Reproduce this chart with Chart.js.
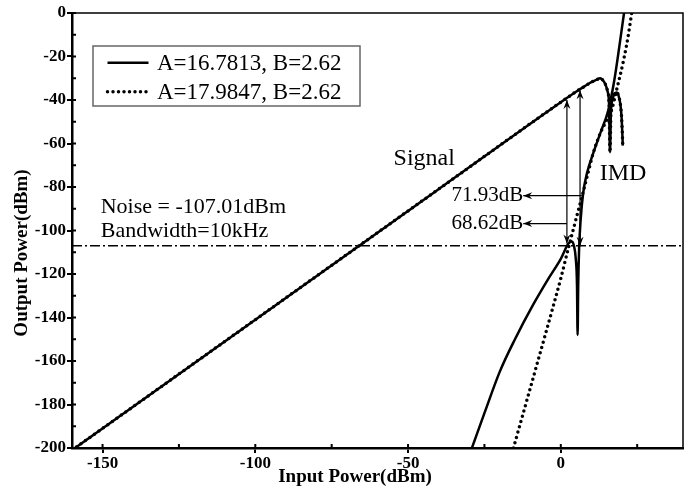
<!DOCTYPE html>
<html>
<head>
<meta charset="utf-8">
<script src="https://cdn.jsdelivr.net/npm/chart.js@4"></script>
<style>
  html, body { margin: 0; padding: 0; background: #fff; }
  #wrap { width: 691px; height: 490px; }
</style>
</head>
<body>
<div id="wrap"><canvas id="powerChart" width="691" height="490"></canvas></div>
<script>
// signal curve (both A values overlap here)
const signalX = [-160, -120, -80, -40, 0, 5, 8, 10, 12, 12.8, 13.5, 14.5, 15.3, 15.8, 16.1, 16.4, 17, 17.6, 18.3, 18.9, 19.5, 19.9, 20.3];
const signalY = [-201, -161, -121, -81, -41, -36.2, -33.5, -31.8, -30.5, -30, -30.5, -32.5, -36, -42, -64, -46, -39.5, -37, -36.5, -38, -42, -48, -61];

// IMD curve, A=16.7813
const imdSolidX = [-29.1, -25, -20, -15, -9, -4, 0, 2.5, 3.5, 4.3, 4.9, 5.3, 5.5, 5.7, 6.0, 6.5, 7.3, 8.5, 10.6, 13, 15.5, 17.5, 19.2, 20.7];
const imdSolidY = [-200, -184, -165, -150, -134, -122, -113, -106, -105, -107, -113, -125, -148, -125, -108, -95, -83, -74, -64.5, -55, -45, -31, -15, 0];

// IMD curve, A=17.9847
const imdDotX = [-15.5, -10, -5, 0, 2.5, 4, 5.5, 7.2, 9, 10.6, 13, 14.8, 16.6, 18.5, 20.5, 22, 23.2];
const imdDotY = [-200, -172.5, -147.5, -122, -108, -100, -92, -83, -73, -64.5, -55, -50, -44.7, -34, -22, -11, 0];

const noiseLevel = -107.01;
const xRange = [-160, 40];
const yRange = [-200, 0];
const xTickValues = [-150, -125, -100, -75, -50, -25, 0, 25];

const xTitle = 'Input Power(dBm)';
const yTitle = 'Output Power(dBm)';
const legendLabels = ['A=16.7813, B=2.62', 'A=17.9847, B=2.62'];

// annotations: [text, x, y]
const notes = [
    ['Signal', -44.7, -66.8],
    ['IMD', 20.4, -73.7]
];
const noiseNotes = [
    ['Noise = -107.01dBm', -150.6, -89.3],
    ['Bandwidth=10kHz', -150.6, -100.3]
];
// double arrows: [x, yBottom, yTop]
const vArrows = [
    [2.0, -106, -40],
    [6.3, -107, -35.5]
];
// horizontal arrows: [label, xFrom, xTo, y]
const hArrows = [
    ['71.93dB', 6.9, -12.3, -84],
    ['68.62dB', 2.0, -12.3, -96.8]
];

const toPoints = (xs, ys) => xs.map((x, i) => ({ x: x, y: ys[i] }));

const serif = "'Liberation Serif', 'Times New Roman', serif";

function arrowHead(ctx, x, y, angle) {
    ctx.save();
    ctx.translate(x, y);
    ctx.rotate(angle);
    ctx.beginPath();
    ctx.moveTo(0, 0);
    ctx.lineTo(-9, -3.5);
    ctx.lineTo(-6, 0);
    ctx.lineTo(-9, 3.5);
    ctx.closePath();
    ctx.fill();
    ctx.restore();
}

const extrasPlugin = {
    id: 'extras',
    afterDatasetsDraw(chart) {
        const ctx = chart.ctx;
        const xs = chart.scales.x;
        const ys = chart.scales.y;
        const area = chart.chartArea;
        ctx.save();

        // frame on top and right
        ctx.strokeStyle = '#000';
        ctx.lineWidth = 1.5;
        ctx.beginPath();
        ctx.moveTo(area.left, area.top);
        ctx.lineTo(area.right, area.top);
        ctx.lineTo(area.right, area.bottom);
        ctx.stroke();

        // inner tick marks
        ctx.lineWidth = 2;
        ctx.beginPath();
        xs.ticks.forEach(t => {
            const px = xs.getPixelForValue(t.value);
            ctx.moveTo(px, area.bottom);
            ctx.lineTo(px, area.bottom - 4);
        });
        ys.ticks.forEach(t => {
            const py = ys.getPixelForValue(t.value);
            ctx.moveTo(area.left, py);
            ctx.lineTo(area.left + 4, py);
        });
        ctx.stroke();

        // axis titles
        ctx.fillStyle = '#000';
        ctx.font = 'bold 19px ' + serif;
        ctx.textAlign = 'center';
        ctx.textBaseline = 'middle';
        ctx.fillText(xTitle, area.left + 283, area.bottom + 29);
        ctx.save();
        ctx.translate(22, area.top + 240);
        ctx.rotate(-Math.PI / 2);
        ctx.fillText(yTitle, 0, 0);
        ctx.restore();

        // arrows
        ctx.lineWidth = 1.2;
        vArrows.forEach(a => {
            const px = xs.getPixelForValue(a[0]);
            const y1 = ys.getPixelForValue(a[1]);
            const y2 = ys.getPixelForValue(a[2]);
            ctx.beginPath();
            ctx.moveTo(px, y1);
            ctx.lineTo(px, y2);
            ctx.stroke();
            arrowHead(ctx, px, y2, -Math.PI / 2);
            arrowHead(ctx, px, y1, Math.PI / 2);
        });
        ctx.font = '21px ' + serif;
        hArrows.forEach(a => {
            const x1 = xs.getPixelForValue(a[1]);
            const x2 = xs.getPixelForValue(a[2]);
            const py = ys.getPixelForValue(a[3]);
            ctx.beginPath();
            ctx.moveTo(x1, py);
            ctx.lineTo(x2, py);
            ctx.stroke();
            arrowHead(ctx, x2, py, Math.PI);
            ctx.textAlign = 'right';
            ctx.fillText(a[0], x2, py);
        });

        // text notes
        ctx.font = '24px ' + serif;
        ctx.textAlign = 'center';
        notes.forEach(n => {
            ctx.fillText(n[0], xs.getPixelForValue(n[1]), ys.getPixelForValue(n[2]));
        });
        ctx.font = '22px ' + serif;
        ctx.textAlign = 'left';
        noiseNotes.forEach(n => {
            ctx.fillText(n[0], xs.getPixelForValue(n[1]), ys.getPixelForValue(n[2]));
        });

        // legend box
        const lx = area.left + 21;
        const ly = area.top + 33;
        ctx.fillStyle = '#fff';
        ctx.fillRect(lx, ly, 267, 60);
        ctx.strokeStyle = '#666';
        ctx.lineWidth = 1.5;
        ctx.strokeRect(lx, ly, 267, 60);
        ctx.strokeStyle = '#000';
        ctx.fillStyle = '#000';
        ctx.font = '23px ' + serif;
        ctx.textAlign = 'left';
        legendLabels.forEach((label, i) => {
            const rowY = ly + 16.7 + i * 29;
            ctx.beginPath();
            ctx.lineWidth = i === 0 ? 2.5 : 3.5;
            ctx.lineCap = i === 0 ? 'butt' : 'round';
            ctx.setLineDash(i === 0 ? [] : [0, 5.5]);
            ctx.moveTo(lx + 14.5, rowY);
            ctx.lineTo(lx + 55.5, rowY);
            ctx.stroke();
            ctx.setLineDash([]);
            ctx.fillText(label, lx + 64, rowY + 1);
        });
        ctx.restore();
    }
};

document.addEventListener('DOMContentLoaded', () => {
    const ctx = document.getElementById('powerChart').getContext('2d');

    // outer tick marks only on labelled ticks
    const majorTickColor = c => (c.tick && c.tick.label !== '' ? '#000' : 'rgba(0,0,0,0)');

    new Chart(ctx, {
        type: 'line',
        data: {
            datasets: [
                {
                    label: 'noise',
                    data: toPoints(xRange, [noiseLevel, noiseLevel]),
                    borderColor: '#000',
                    borderWidth: 1.5,
                    borderDash: [10, 3, 2, 3]
                },
                {
                    label: legendLabels[0] + ' signal',
                    data: toPoints(signalX, signalY),
                    borderColor: '#000',
                    borderWidth: 2.5
                },
                {
                    label: legendLabels[0] + ' IMD',
                    data: toPoints(imdSolidX, imdSolidY),
                    borderColor: '#000',
                    borderWidth: 2.5
                },
                {
                    label: legendLabels[1] + ' signal',
                    data: toPoints(signalX, signalY),
                    borderColor: '#000',
                    borderWidth: 3.5,
                    borderCapStyle: 'round',
                    borderDash: [0, 5.5]
                },
                {
                    label: legendLabels[1] + ' IMD',
                    data: toPoints(imdDotX, imdDotY),
                    borderColor: '#000',
                    borderWidth: 3.5,
                    borderCapStyle: 'round',
                    borderDash: [0, 5.5]
                }
            ]
        },
        options: {
            responsive: false,
            animation: false,
            events: [],
            layout: { padding: { left: 0, right: 8, top: 13, bottom: 0 } },
            elements: {
                point: { radius: 0 },
                line: { cubicInterpolationMode: 'monotone' }
            },
            plugins: {
                legend: { display: false },
                tooltip: { enabled: false }
            },
            scales: {
                x: {
                    type: 'linear',
                    min: xRange[0],
                    max: xRange[1],
                    afterFit: scale => { scale.height = 42; },
                    afterBuildTicks: scale => {
                        scale.ticks = xTickValues.map(v => ({ value: v }));
                    },
                    ticks: {
                        autoSkip: false,
                        maxRotation: 0,
                        padding: 0,
                        color: '#000',
                        font: { family: serif, size: 17, weight: 'bold' },
                        callback: v => (v % 50 === 0 ? String(v) : '')
                    },
                    grid: {
                        drawOnChartArea: false,
                        color: '#000',
                        tickColor: majorTickColor,
                        lineWidth: 2,
                        tickLength: 5
                    },
                    border: { color: '#000', width: 2.5 }
                },
                y: {
                    type: 'linear',
                    min: yRange[0],
                    max: yRange[1],
                    afterFit: scale => { scale.width = 72; },
                    ticks: {
                        stepSize: 10,
                        autoSkip: false,
                        padding: 1,
                        color: '#000',
                        font: { family: serif, size: 17, weight: 'bold' },
                        callback: v => (v % 20 === 0 ? String(v) : '')
                    },
                    grid: {
                        drawOnChartArea: false,
                        color: '#000',
                        tickColor: majorTickColor,
                        lineWidth: 2,
                        tickLength: 5
                    },
                    border: { color: '#000', width: 2.5 }
                }
            }
        },
        plugins: [extrasPlugin]
    });
});
</script>
</body>
</html>
